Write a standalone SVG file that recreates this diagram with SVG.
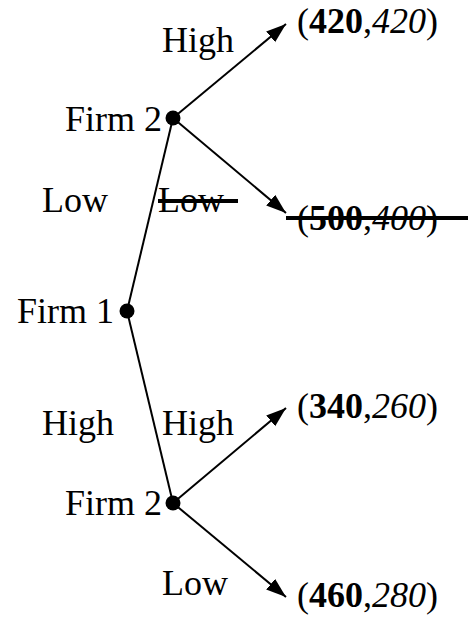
<svg xmlns="http://www.w3.org/2000/svg" width="468" height="621" viewBox="0 0 468 621">
<style>
text{font-family:"Liberation Serif","Times New Roman",serif;font-size:36px;fill:#000}
.b{font-weight:bold}
.i{font-style:italic}
.e{stroke:#000;stroke-width:2;fill:none}
.s{stroke:#000;stroke-width:4}
</style>
<defs>
<marker id="ah" markerUnits="userSpaceOnUse" markerWidth="22" markerHeight="16" refX="20" refY="7" orient="auto">
<path d="M0,0 L20,7 L0,14 z" fill="#000"/>
</marker>
</defs>
<g id="connectors">
<line class="e" x1="127" y1="311" x2="173" y2="118"/>
<line class="e" x1="127" y1="311" x2="173" y2="503"/>
<line class="e" x1="173" y1="118" x2="286" y2="24" marker-end="url(#ah)"/>
<line class="e" x1="173" y1="118" x2="286" y2="213" marker-end="url(#ah)"/>
<line class="e" x1="173" y1="503" x2="286" y2="408" marker-end="url(#ah)"/>
<line class="e" x1="173" y1="503" x2="286" y2="597" marker-end="url(#ah)"/>
</g>
<g id="firm1">
<circle cx="127" cy="311" r="7.5"/>
<text x="17" y="323">Firm 1</text>
</g>
<g id="firm2top">
<circle cx="173" cy="118" r="7.5"/>
<text x="65" y="131">Firm 2</text>
</g>
<g id="firm2bottom">
<circle cx="173" cy="503" r="7.5"/>
<text x="65" y="515">Firm 2</text>
</g>
<g id="labels">
<text x="162" y="52">High</text>
<text x="42" y="212">Low</text>
<text x="158" y="212">Low</text>
<line class="s" x1="158" y1="201" x2="238" y2="201"/>
<text x="42" y="435">High</text>
<text x="162" y="435">High</text>
<text x="162" y="595">Low</text>
</g>
<g id="payoff1"><text x="297" y="33">(<tspan class="b">420</tspan>,<tspan class="i">420</tspan>)</text></g>
<g id="payoff2"><text x="297" y="230">(<tspan class="b">500</tspan>,<tspan class="i">400</tspan>)</text>
<line class="s" x1="286" y1="218" x2="468" y2="218"/></g>
<g id="payoff3"><text x="297" y="418">(<tspan class="b">340</tspan>,<tspan class="i">260</tspan>)</text></g>
<g id="payoff4"><text x="297" y="607">(<tspan class="b">460</tspan>,<tspan class="i">280</tspan>)</text></g>
</svg>
